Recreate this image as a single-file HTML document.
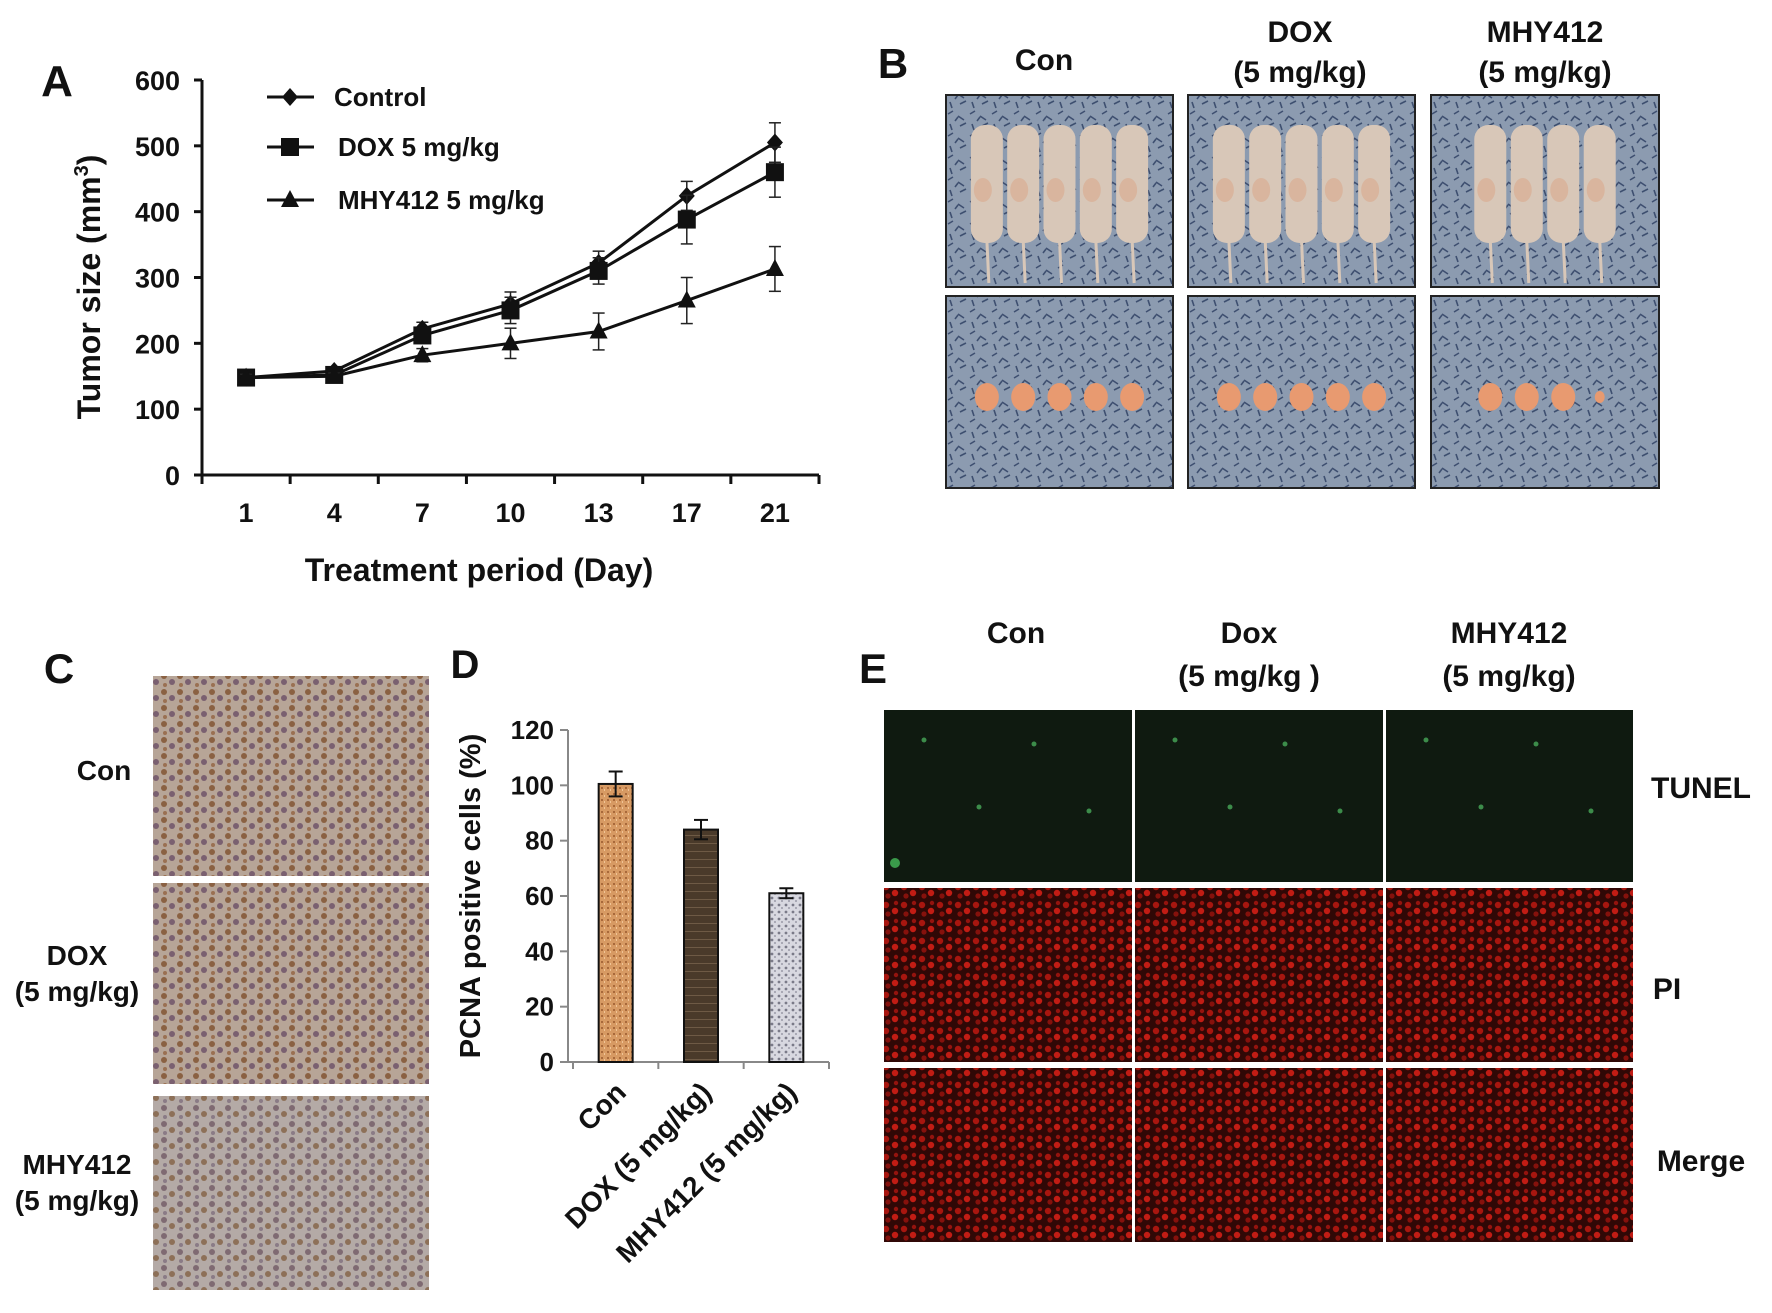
<!DOCTYPE html>
<html><head><meta charset="utf-8"><style>
html,body{margin:0;padding:0;background:#fff}
svg{display:block}
text{font-family:"Liberation Sans",Arial,sans-serif;font-weight:bold;fill:#111}
</style></head><body>
<svg id="fig" width="1772" height="1313" viewBox="0 0 1772 1313" xmlns="http://www.w3.org/2000/svg">
<defs>
<pattern id="cloth" width="22" height="22" patternUnits="userSpaceOnUse">
<rect width="22" height="22" fill="#8c9bb0"/>
<path d="M2 4 l5 -3 M12 6 l6 4 M4 14 l2 6 M14 16 l6 -3 M9 11 l3 -4" stroke="#3e4f70" stroke-width="1.6"/>
</pattern>
<pattern id="pi" width="18" height="18" patternUnits="userSpaceOnUse">
<rect width="18" height="18" fill="#300806"/>
<circle cx="4" cy="5" r="3.2" fill="#a8160f"/><circle cx="13" cy="11" r="3.2" fill="#c21c14"/><circle cx="6" cy="14" r="2.6" fill="#86110c"/><circle cx="14" cy="3" r="2.2" fill="#94130e"/>
</pattern>
<pattern id="ihc" width="16" height="16" patternUnits="userSpaceOnUse">
<rect width="16" height="16" fill="#b7a597"/>
<circle cx="4" cy="4" r="3" fill="#8a6142"/><circle cx="12" cy="10" r="3" fill="#7a6070"/><circle cx="5" cy="13" r="2" fill="#9a7052"/>
</pattern>
<pattern id="ihc2" width="16" height="16" patternUnits="userSpaceOnUse">
<rect width="16" height="16" fill="#b4aaa6"/>
<circle cx="4" cy="4" r="3" fill="#7f6a72"/><circle cx="12" cy="10" r="3" fill="#8d7058"/><circle cx="5" cy="13" r="2" fill="#8a7b86"/>
</pattern>
<pattern id="bar1" width="6" height="6" patternUnits="userSpaceOnUse"><rect width="6" height="6" fill="#d79a63"/><rect x="1" y="1" width="2" height="2" fill="#a8693a"/><rect x="4" y="3" width="1" height="2" fill="#f0c496"/></pattern>
<pattern id="bar2" width="8" height="8" patternUnits="userSpaceOnUse"><rect width="8" height="8" fill="#4a3a2a"/><rect y="3" width="8" height="1" fill="#6e5a45"/></pattern>
<pattern id="bar3" width="7" height="7" patternUnits="userSpaceOnUse"><rect width="7" height="7" fill="#d8d8e0"/><circle cx="2" cy="2" r="1.4" fill="#7a7a88"/><circle cx="5" cy="5" r="1" fill="#9a9aa8"/></pattern>
</defs>

<!-- Panel A -->
<text x="57" y="96" font-size="44" text-anchor="middle">A</text>
<g id="chartA"></g>
<text x="479" y="581" font-size="32" text-anchor="middle">Treatment period (Day)</text>
<text transform="translate(100,287) rotate(-90)" font-size="32" text-anchor="middle">Tumor size (mm<tspan font-size="20" dy="-12">3</tspan><tspan dy="12">)</tspan></text>

<!-- Panel B -->
<text x="893" y="78" font-size="42" text-anchor="middle">B</text>
<text x="1044" y="70" font-size="30" text-anchor="middle">Con</text>
<text x="1300" y="42" font-size="30" text-anchor="middle">DOX</text>
<text x="1300" y="82" font-size="30" text-anchor="middle">(5 mg/kg)</text>
<text x="1545" y="42" font-size="30" text-anchor="middle">MHY412</text>
<text x="1545" y="82" font-size="30" text-anchor="middle">(5 mg/kg)</text>
<g id="photosB"></g>

<!-- Panel C -->
<text x="59" y="683" font-size="42" text-anchor="middle">C</text>
<text x="104" y="780" font-size="28" text-anchor="middle">Con</text>
<text x="77" y="965" font-size="28" text-anchor="middle">DOX</text>
<text x="77" y="1001" font-size="28" text-anchor="middle">(5 mg/kg)</text>
<text x="77" y="1174" font-size="28" text-anchor="middle">MHY412</text>
<text x="77" y="1210" font-size="28" text-anchor="middle">(5 mg/kg)</text>
<rect x="153" y="676" width="276" height="200" fill="url(#ihc)"/>
<rect x="153" y="883" width="276" height="201" fill="url(#ihc)"/>
<rect x="153" y="1096" width="276" height="194" fill="url(#ihc2)"/>

<!-- Panel D -->
<text x="465" y="678" font-size="40" text-anchor="middle">D</text>
<g id="chartD"></g>
<text transform="translate(480,896) rotate(-90)" font-size="29" text-anchor="middle">PCNA positive cells (%)</text>

<!-- Panel E -->
<text x="873" y="683" font-size="42" text-anchor="middle">E</text>
<text x="1016" y="643" font-size="30" text-anchor="middle">Con</text>
<text x="1249" y="643" font-size="30" text-anchor="middle">Dox</text>
<text x="1249" y="686" font-size="30" text-anchor="middle">(5 mg/kg )</text>
<text x="1509" y="643" font-size="30" text-anchor="middle">MHY412</text>
<text x="1509" y="686" font-size="30" text-anchor="middle">(5 mg/kg)</text>
<text x="1701" y="798" font-size="30" text-anchor="middle">TUNEL</text>
<text x="1667" y="999" font-size="30" text-anchor="middle">PI</text>
<text x="1701" y="1171" font-size="30" text-anchor="middle">Merge</text>
<g id="photosE"></g>
</svg>
<script>
const NS='http://www.w3.org/2000/svg';
function mk(tag,attrs,parent){const e=document.createElementNS(NS,tag);for(const k in attrs)e.setAttribute(k,attrs[k]);parent.appendChild(e);return e;}

// ---- Chart A data ----
const days=['1','4','7','10','13','17','21'];
const controlVals=[148,158,222,260,322,424,505];
const controlErr=[5,6,10,18,18,22,30];
const doxVals=[148,152,212,250,310,388,460];
const doxErr=[5,5,12,20,20,37,38];
const mhyVals=[148,150,182,200,218,265,313];
const mhyErr=[5,5,10,23,28,35,34];
const yTicksA=[0,100,200,300,400,500,600];
const seriesNames=['Control','DOX 5 mg/kg','MHY412 5 mg/kg'];

const gA=document.getElementById('chartA');
const ax0=202, ax1=819, ay0=475, ay1=80;
const yA=v=>ay0-(v/600)*(ay0-ay1);
const step=(ax1-ax0)/days.length;
const xA=i=>ax0+step*(i+0.5);
mk('line',{x1:ax0,y1:ay1,x2:ax0,y2:ay0,stroke:'#111','stroke-width':3},gA);
mk('line',{x1:ax0-8,y1:ay0,x2:ax1,y2:ay0,stroke:'#111','stroke-width':3},gA);
yTicksA.forEach(v=>{
  mk('line',{x1:ax0-8,y1:yA(v),x2:ax0,y2:yA(v),stroke:'#111','stroke-width':3},gA);
  const t=mk('text',{x:ax0-22,y:yA(v)+10,'font-size':27,'text-anchor':'end'},gA);t.textContent=v;
  
  
});
for(let i=0;i<=days.length;i++){mk('line',{x1:ax0+step*i,y1:ay0,x2:ax0+step*i,y2:ay0+9,stroke:'#111','stroke-width':3},gA);}
days.forEach((d,i)=>{const t=mk('text',{x:xA(i),y:522,'font-size':27,'text-anchor':'middle'},gA);t.textContent=d;
  
  });
function marker(type,x,y,g){
  if(type==0) return mk('polygon',{points:`${x},${y-9} ${x+8},${y} ${x},${y+9} ${x-8},${y}`,fill:'#111'},g);
  if(type==1) return mk('rect',{x:x-9,y:y-9,width:18,height:18,fill:'#111'},g);
  return mk('polygon',{points:`${x},${y-10} ${x+9},${y+7} ${x-9},${y+7}`,fill:'#111'},g);
}
[[controlVals,controlErr],[doxVals,doxErr],[mhyVals,mhyErr]].forEach((s,si)=>{
  const g=mk('g',{},gA);
  
  
  const [vals,err]=s;
  vals.forEach((v,i)=>{const x=xA(i);
    mk('line',{x1:x,y1:yA(v+err[i]),x2:x,y2:yA(v-err[i]),stroke:'#222','stroke-width':1.5},g);
    mk('line',{x1:x-6,y1:yA(v+err[i]),x2:x+6,y2:yA(v+err[i]),stroke:'#222','stroke-width':1.5},g);
    mk('line',{x1:x-6,y1:yA(v-err[i]),x2:x+6,y2:yA(v-err[i]),stroke:'#222','stroke-width':1.5},g);});
  mk('polyline',{points:vals.map((v,i)=>xA(i)+','+yA(v)).join(' '),fill:'none',stroke:'#111','stroke-width':3},g);
  vals.forEach((v,i)=>{const m=marker(si,xA(i),yA(v),g);
    
    });
});
const legY=[97,147,200];
seriesNames.forEach((n,i)=>{
  const g=mk('g',{},gA);
  
  
  mk('line',{x1:267,y1:legY[i],x2:314,y2:legY[i],stroke:'#111','stroke-width':3},g);
  marker(i,290,legY[i],g);
  const t=mk('text',{x:i==0?334:338,y:legY[i]+9,'font-size':26},g);t.textContent=n;
});

// ---- Panel B photos ----
const gB=document.getElementById('photosB');
const bx=[[946,1173],[1188,1415],[1431,1659]], by=[[95,287],[296,488]];
const mice=[5,5,4];
bx.forEach((c,ci)=>by.forEach((r,ri)=>{
  const g=mk('g',{},gB);
  
  
  mk('rect',{x:c[0],y:r[0],width:c[1]-c[0],height:r[1]-r[0],fill:'url(#cloth)',stroke:'#222','stroke-width':2},g);
  const n=mice[ci], w=c[1]-c[0];
  for(let k=0;k<n;k++){
    const cx=c[0]+w*(0.5+(k-(n-1)/2)*0.16);
    if(ri==0){mk('rect',{x:cx-16,y:r[0]+30,width:32,height:118,rx:14,fill:'#d8c7b8'},g);
      mk('line',{x1:cx,y1:r[0]+145,x2:cx+2,y2:r[1]-4,stroke:'#d8c7b8','stroke-width':3},g);
      mk('ellipse',{cx:cx-4,cy:r[0]+95,rx:9,ry:12,fill:'#d9b59e'},g);}
    else{mk('ellipse',{cx:cx,cy:(r[0]+r[1])/2+5,rx:ci==2&&k==3?5:12,ry:ci==2&&k==3?6:14,fill:'#e89a70'},g);}
  }
}));

// ---- Chart D data ----
const groups=['Con','DOX (5 mg/kg)','MHY412 (5 mg/kg)'];
const pcnaVals=[100.5,84,61];
const pcnaErr=[4.5,3.5,1.8];
const yTicksD=[0,20,40,60,80,100,120];
const fills=['url(#bar1)','url(#bar2)','url(#bar3)'];
const gD=document.getElementById('chartD');
const dx0=568, dx1=829, dy0=1062, dy1=730;
const yD=v=>dy0-(v/120)*(dy0-dy1);
const dstep=(dx1-573)/groups.length;
const xD=i=>573+dstep*(i+0.5);
mk('line',{x1:dx0,y1:dy1,x2:dx0,y2:dy0,stroke:'#888','stroke-width':2},gD);
mk('line',{x1:dx0-8,y1:dy0,x2:dx1,y2:dy0,stroke:'#888','stroke-width':2},gD);
yTicksD.forEach(v=>{mk('line',{x1:dx0-8,y1:yD(v),x2:dx0,y2:yD(v),stroke:'#888','stroke-width':2},gD);
  const t=mk('text',{x:dx0-14,y:yD(v)+9,'font-size':26,'text-anchor':'end'},gD);t.textContent=v;
  
  });
for(let i=0;i<=groups.length;i++)mk('line',{x1:573+dstep*i,y1:dy0,x2:573+dstep*i,y2:dy0+7,stroke:'#888','stroke-width':2},gD);
groups.forEach((g,i)=>{const x=xD(i);
  const b=mk('rect',{x:x-17,y:yD(pcnaVals[i]),width:34,height:dy0-yD(pcnaVals[i]),fill:fills[i],stroke:'#111','stroke-width':2},gD);
  
  
  const e1=yD(pcnaVals[i]+pcnaErr[i]),e2=yD(pcnaVals[i]-pcnaErr[i]);
  mk('line',{x1:x,y1:e1,x2:x,y2:e2,stroke:'#111','stroke-width':2},gD);
  mk('line',{x1:x-7,y1:e1,x2:x+7,y2:e1,stroke:'#111','stroke-width':2},gD);
  mk('line',{x1:x-7,y1:e2,x2:x+7,y2:e2,stroke:'#111','stroke-width':2},gD);
  const t=mk('text',{transform:`translate(${x+12},${dy0+32}) rotate(-45)`,'font-size':28,'text-anchor':'end'},gD);t.textContent=g;
  
  
});

// ---- Panel E ----
const gE=document.getElementById('photosE');
const ex=[[884,1132],[1135,1383],[1386,1633]], ey=[[710,882],[888,1062],[1068,1242]];
mk('rect',{x:882,y:708,width:753,height:536,fill:'#fff'},gE);
ex.forEach(c=>ey.forEach((r,ri)=>{
  const el=mk('rect',{x:c[0],y:r[0],width:c[1]-c[0],height:r[1]-r[0],fill:ri==0?'#0f1a10':'url(#pi)'},gE);
  
  
  if(ri==0){for(let k=0;k<4;k++)mk('circle',{cx:c[0]+40+k*55,cy:r[0]+30+((k*67)%130),r:2.5,fill:'#3c8c4a'},gE);}
}));
mk('circle',{cx:895,cy:863,r:5,fill:'#3a9a4a'},gE);
</script>
</body></html>
